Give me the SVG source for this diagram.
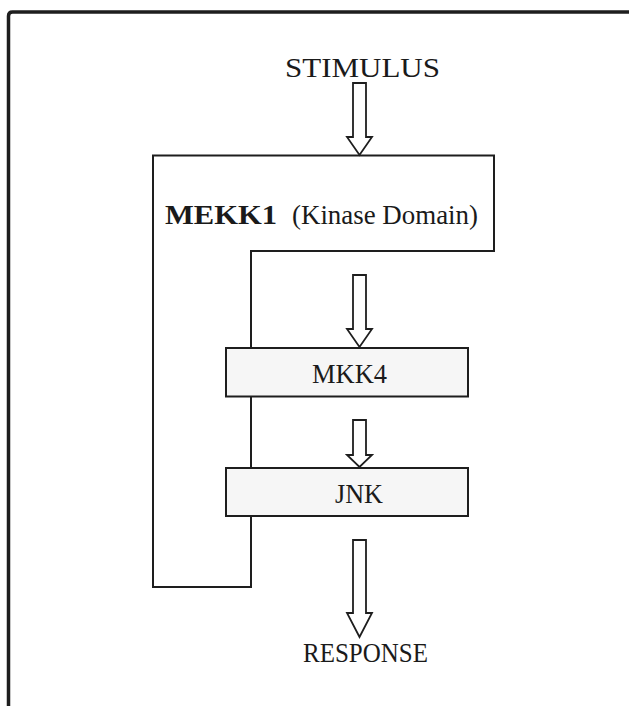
<svg xmlns="http://www.w3.org/2000/svg" width="629" height="706" viewBox="0 0 629 706">
<style>
.t{font-family:"Liberation Serif","Times New Roman",serif;fill:#1a1a1a;font-size:27px}
.b{font-weight:bold}
.box{fill:#f6f6f6;stroke:#1e1e1e;stroke-width:2}
.arr{fill:#fff;stroke:#1e1e1e;stroke-width:1.8;stroke-linejoin:miter}
</style>
<rect width="629" height="706" fill="#fff"/>
<path d="M8.5,730 V16 Q8.5,12 12.5,12 H660" fill="none" stroke="#1e1e1e" stroke-width="3.5"/>
<g id="stimulus"><text class="t" x="285" y="77" font-size="30.5" textLength="155" lengthAdjust="spacingAndGlyphs">STIMULUS</text></g>
<g id="mekk1">
<path d="M153,155.5 H494 V251 H251 V587 H153 Z" fill="#fff" stroke="#1e1e1e" stroke-width="2"/>
<text class="t b" x="165" y="223.5" font-size="27.5" textLength="112" lengthAdjust="spacingAndGlyphs">MEKK1</text>
<text class="t" x="292" y="223.5" textLength="186" lengthAdjust="spacingAndGlyphs">(Kinase Domain)</text>
</g>
<g id="mkk4">
<rect class="box" x="226" y="348" width="242" height="48.5"/>
<text class="t" x="312" y="383" textLength="75" lengthAdjust="spacingAndGlyphs">MKK4</text>
</g>
<g id="jnk">
<rect class="box" x="226" y="468" width="242" height="48"/>
<text class="t" x="335" y="503" textLength="48" lengthAdjust="spacingAndGlyphs">JNK</text>
</g>
<g id="response"><text class="t" x="303" y="662" font-size="26.5" textLength="125" lengthAdjust="spacingAndGlyphs">RESPONSE</text></g>
<g id="connectors">
<path class="arr" d="M353,83 H366 V137 H372 L359.5,155 L347,137 H353 Z"/>
<path class="arr" d="M353,275 H366 V329 H372 L359.5,347 L347,329 H353 Z"/>
<path class="arr" d="M353,420 H366 V455 H372 L359.5,467 L347,455 H353 Z"/>
<path class="arr" d="M353,540 H366 V613 H372 L359.5,637 L347,613 H353 Z"/>
</g>
</svg>
